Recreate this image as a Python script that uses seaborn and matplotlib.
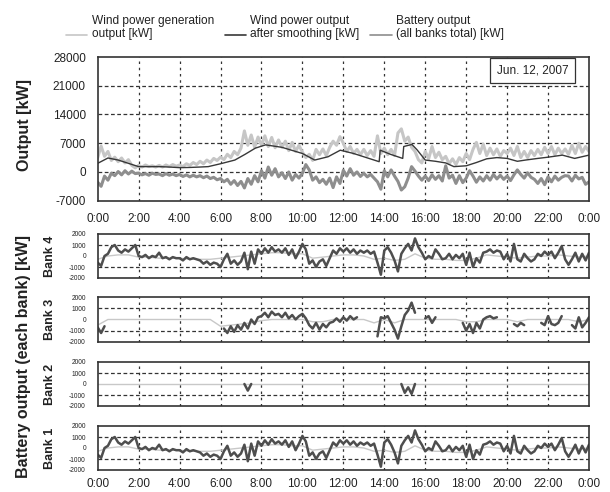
import numpy as np
import pandas as pd
import matplotlib.pyplot as plt
from matplotlib.lines import Line2D
from matplotlib.legend_handler import HandlerLine2D
import seaborn as sns

nan = np.nan

# 10-minute samples over the day (hours 0..24)
hours = np.arange(145) / 6

wind_raw = [
    3500, 6300, 3800, 5000, 2800, 3600,
    2500, 3400, 2200, 3000, 1600, 1000,
    1600, 1200, 1700, 1300, 1500, 1200,
    1600, 1200, 1700, 1300, 1800, 1400,
    1700, 1300, 2000, 1600, 2300, 1800,
    2600, 2000, 2900, 2300, 3300, 2800,
    3600, 3000, 4300, 3500, 5000, 4200,
    5800, 10000, 6500, 9000, 6000, 8500,
    6500, 8800, 6200, 8400, 5900, 7800,
    6000, 7500, 5200, 7200, 5000, 6500,
    4800, 3500, 4300, 2800, 5500, 4200,
    5600, 4000, 6000, 7500, 6500, 8600,
    7000, 5000, 6200, 4500, 5500, 4200,
    5500, 4000, 5200, 3800, 8800, 4500,
    5800, 4200, 5500, 4000, 9500, 10500,
    7500, 8500, 6000, 5000, 3000, 2200,
    5000, 3200, 6200, 3500, 4800, 3000,
    3800, 2000, 3200, 1800, 3500, 2500,
    4500, 3000, 5500, 7200, 4500, 6800,
    4000, 5800, 4200, 5600, 3800, 5200,
    4500, 5800, 4000, 6200, 3500, 5000,
    3500, 5200, 4000, 5500, 4200, 6000,
    4500, 6200, 4200, 5800, 4500, 5600,
    4300, 6500, 4500, 7000, 4800, 6200,
    5000,
]

battery_total = [
    -2500, -3500, -1000, -2000, -300, -900,
    100, -700, 300, -500, 200, -400,
    -300, -700, -400, -800, -300, -600,
    -500, -900, -400, -800, -500, -900,
    -600, -1100, -700, -1200, -800, -1200,
    -900, -1400, -1000, -1600, -1300, -1900,
    -1600, -2400, -1800, -3000, -2100, -3300,
    -2300, -3900, -1600, -3000, -900, -2400,
    300, -1500, 1200, -800, 800, -1200,
    -200, -1600, 0, -2000, -600, -1500,
    -300, 1800, 500, -2000, -1200, -2600,
    -1800, -3000, -1500, -3800, -1200, -2800,
    400, -1000, 800, -800, 0, -1100,
    -300, -1200, -600, -1500, -2400, -4200,
    300, -1200, 500, -1000, -2300, -4400,
    -3600, -1500, 1300, 200, -1000, -2000,
    -1000, -2100, -700, -1800, -900, -2200,
    1500, -1500, -800, -2800, -900, -2600,
    -1500, 300, -1000, -2500, -1200, -2200,
    -900, -2000, -600, -1700, -800, -1800,
    -1000, -2100, -700, 500, -600, -1500,
    -200, -1300, -1800, -2800, -1600, -3100,
    -1200, -2400, -1000, -2000, -1300, -900,
    -1000, -2200, -800, -1700, -1300, -3000,
    -2400,
]

smooth_t = [0, 0.5, 1, 1.5, 2, 2.5, 3, 3.5, 4, 4.5, 5, 5.4, 6, 6.7, 7.2, 7.7,
            8.2, 9, 10, 10.6, 11.25, 11.85, 12.5, 13, 13.75, 13.8, 14.3, 14.9,
            14.95, 15.35, 15.6, 16, 16.5, 17, 17.4, 18, 18.5, 19, 19.5, 20,
            20.5, 20.9, 21.5, 22, 22.7, 23.3, 24]
smooth_kw = [2100, 3400, 2900, 2100, 1300, 1300, 1300, 1200, 1050, 1100, 1200,
             1300, 2000, 2900, 4300, 5800, 6600, 6000, 4500, 2900, 3700, 5300,
             4500, 3700, 2500, 5300, 4300, 3300, 6200, 6700, 5400, 2900, 2600,
             2200, 1300, 1500, 2300, 3200, 3500, 3300, 2600, 2900, 3300, 3600,
             4100, 3300, 4100]

bank1 = [
    -600, -900, 0, 200, 800, 1000,
    500, 300, 600, 400, 700, 1000,
    0, -100, 100, -200, 0, -100,
    300, -200, -100, -300, -100, -200,
    -200, -400, -100, -300, -200, -300,
    -400, -700, -500, -800, -600, -700,
    -1000, -300, 200, -700, -400, -800,
    -500, 300, -1200, 400, -700, 600,
    200, 700, 300, 800, 400, 600,
    300, 700, 100, 600, -200, 400,
    1100, 600, -700, -400, -1000, -500,
    -300, -900, -200, 500, 200, 700,
    400, 700, 300, 600, 200, 500,
    300, 500, 200, 400, -600, -1700,
    500, 800, 300, -400, -1400, 200,
    700, 1100, 500, 1600, 800, 300,
    -300, 0, -200, 600, 200, -300,
    -200, 200, -300, 100, -200, 200,
    -800, 300, -1000, -200, -600, 300,
    400, 600, 300, 500, 400, -300,
    200, -500, 1100, -300, -500, 200,
    -200, -500, -300, 200, 0, 400,
    100, 400, -200, 300, 900, -300,
    -800, -300, 300, -500, 200, -400,
    300,
]
bank4 = list(bank1)

bank3 = [
    -700, -1200, -600, nan, nan, nan,
    nan, nan, nan, nan, nan, nan,
    nan, nan, nan, nan, nan, nan,
    nan, nan, nan, nan, nan, nan,
    nan, nan, nan, nan, nan, nan,
    nan, nan, nan, nan, nan, nan,
    nan, -800, -1200, -600, -1100, -500,
    -900, -300, -800, 0, -400, 200,
    300, 600, 200, 700, 400, 500,
    200, 600, 100, 400, 0, 300,
    500, 100, -500, -800, -300, -900,
    -400, -700, -300, -200, 100, -200,
    200, -100, 300, 0, 200, nan,
    nan, nan, nan, nan, -1500, 200,
    100, 300, -300, -900, -1700, -600,
    400, 800, 1500, 600, nan, nan,
    100, 300, -300, 200, nan, nan,
    nan, nan, nan, nan, nan, -300,
    -1000, -400, -1200, -300, -800, 0,
    200, 300, 100, 200, nan, nan,
    nan, nan, -400, -600, -300, -500,
    nan, nan, nan, nan, -300, -500,
    300, -400, -500, -300, 300, nan,
    nan, -500, -800, 200, -700, -300,
    200,
]

bank2 = [
    nan, nan, nan, nan, nan, nan,
    nan, nan, nan, nan, nan, nan,
    nan, nan, nan, nan, nan, nan,
    nan, nan, nan, nan, nan, nan,
    nan, nan, nan, nan, nan, nan,
    nan, nan, nan, nan, nan, nan,
    nan, nan, nan, nan, nan, nan,
    nan, 0, -600, 0, nan, nan,
    nan, nan, nan, nan, nan, nan,
    nan, nan, nan, nan, nan, nan,
    nan, nan, nan, nan, nan, nan,
    nan, nan, nan, nan, nan, nan,
    nan, nan, nan, nan, nan, nan,
    nan, nan, nan, nan, nan, nan,
    nan, nan, nan, nan, nan, 0,
    -800, -300, -900, 0, nan, nan,
    nan, nan, nan, nan, nan, nan,
    nan, nan, nan, nan, nan, nan,
    nan, nan, nan, nan, nan, nan,
    nan, nan, nan, nan, nan, nan,
    nan, nan, nan, nan, nan, nan,
    nan, nan, nan, nan, nan, nan,
    nan, nan, nan, nan, nan, nan,
    nan, nan, nan, nan, nan, nan,
    nan,
]

# light reference line in each bank, half-hourly
ref_t = np.arange(49) / 2
bank1_ref = [-300, 0, 100, 100, -100, -100, -200, -200, -200, -300, -300, -300,
             -200, -100, 0, 100, 200, 300, 300, 200, 200, -200, -100, 0,
             100, 100, 0, -300, -200, -400, -300, 200, -200, -300, -300, -400,
             -400, -200, 100, 0, -100, -200, -100, 0, 0, 100, 0, -100, 0]
bank4_ref = list(bank1_ref)
bank3_ref = [-500, 0, 0, 0, 0, 0, 0, 0, 0, 0, 0, 0,
             -600, -500, -400, -300, -100, 0, 0, 0, 0, -200, -200, 0,
             0, 0, 0, -300, 0, -300, 0, 0, 0, 0, 0, 0,
             -200, -200, 0, 0, 0, -200, 0, 0, 0, 0, 0, -200, 0]
bank2_ref = [0] * 49

hour_ticks = list(range(0, 25, 2))
hour_labels = ["0:00", "2:00", "4:00", "6:00", "8:00", "10:00", "12:00",
               "14:00", "16:00", "18:00", "20:00", "22:00", "0:00"]
top_ticks = [-7000, 0, 7000, 14000, 21000, 28000]
bank_ticks = [-2000, -1000, 0, 1000, 2000]

c_raw = "#c6c6c6"
c_smooth = "#383838"
c_batt = "#8e8e8e"
c_bank = "#4e4e4e"
c_ref = "#c8c8c8"

sns.set_theme(style="white")
plt.rcParams["font.family"] = ["Liberation Sans", "DejaVu Sans"]


def draw(ax, x, y, color, lw):
    df = pd.DataFrame({"t": x, "kw": y})
    df["seg"] = df["kw"].isna().cumsum()
    df = df.dropna()
    sns.lineplot(data=df, x="t", y="kw", units="seg", estimator=None,
                 color=color, lw=lw, ax=ax, legend=False)


def frame(ax, yticks, ysize, xpad):
    ax.set_xlim(0, 24)
    ax.set_ylim(yticks[0], yticks[-1])
    ax.set_xticks(hour_ticks)
    ax.set_xticklabels(hour_labels if xpad else [])
    ax.set_yticks(yticks)
    ax.set_yticklabels([str(v) for v in yticks])
    ax.tick_params(axis="x", length=0, pad=xpad or 9, labelsize=8.5, colors="#222222")
    ax.tick_params(axis="y", length=0, pad=8.5, labelsize=ysize, colors="#222222")
    ax.set_xlabel("")
    ax.set_ylabel("")
    for sp in ax.spines.values():
        sp.set_linewidth(1.2)
        sp.set_color("#333333")
    for h in hour_ticks[1:-1]:
        ax.axvline(h, color="#333333", lw=0.9, ls=(0, (2, 3)), zorder=0.5)


fig = plt.figure(figsize=(6.1, 4.92), dpi=100)
W, H = 610, 492


def box(top, bottom):
    return [97.7 / W, 1 - bottom / H, (589 - 97.7) / W, (bottom - top) / H]


ax = fig.add_axes(box(57, 200.7))
draw(ax, hours, wind_raw, c_raw, 2.2)
draw(ax, hours, battery_total, c_batt, 2.2)
draw(ax, smooth_t, smooth_kw, c_smooth, 1.0)
frame(ax, top_ticks, 8.5, 9)
for v in top_ticks[1:-1]:
    ax.axhline(v, color="#333333", lw=0.9, ls=(0, (3, 2)), zorder=0.5)
ax.text(0.885, 0.905, "Jun. 12, 2007", transform=ax.transAxes, ha="center",
        va="center", fontsize=8.5, color="#222222",
        bbox=dict(boxstyle="square,pad=0.55", fc="white", ec="#333333", lw=0.9))

banks = [("Bank 4", bank4, bank4_ref, 234, 278),
         ("Bank 3", bank3, bank3_ref, 297, 342),
         ("Bank 2", bank2, bank2_ref, 362, 406),
         ("Bank 1", bank1, bank1_ref, 426, 470)]
for name, vals, ref, top, bottom in banks:
    bx = fig.add_axes(box(top, bottom))
    draw(bx, ref_t, ref, c_ref, 1.0)
    draw(bx, hours, vals, c_bank, 1.8)
    frame(bx, bank_ticks, 4.8, 6 if name == "Bank 1" else 0)
    for v in (-1000, 1000):
        bx.axhline(v, color="#333333", lw=0.9, ls=(0, (3, 2)), zorder=0.5)
    fig.text(50 / W, 1 - (top + bottom) / 2 / H, name, rotation=90, ha="center",
             va="center", fontsize=9, fontweight="bold", color="#222222")

fig.text(24.5 / W, 1 - 125 / H, "Output [kW]", rotation=90, ha="center",
         va="center", fontsize=11.5, fontweight="bold", color="#222222")
fig.text(24 / W, 1 - 357 / H, "Battery output (each bank) [kW]", rotation=90,
         ha="center", va="center", fontsize=11.5, fontweight="bold", color="#222222")


class LowLine(HandlerLine2D):
    # put the legend line next to the second text line
    def create_artists(self, legend, orig_handle, xdescent, ydescent, width,
                       height, fontsize, trans):
        arts = super().create_artists(legend, orig_handle, xdescent, ydescent,
                                      width, height, fontsize, trans)
        for a in arts:
            a.set_ydata(np.asarray(a.get_ydata()) - 0.6 * fontsize)
        return arts


handles = [Line2D([], [], color=c_raw, lw=1.2),
           Line2D([], [], color=c_smooth, lw=1.2),
           Line2D([], [], color=c_batt, lw=1.2)]
labels = ["Wind power generation\noutput [kW]",
          "Wind power output\nafter smoothing [kW]",
          "Battery output\n(all banks total) [kW]"]
fig.legend(handles, labels, loc="center", bbox_to_anchor=(285 / W, 1 - 27.5 / H),
           ncol=3, frameon=False, fontsize=8.6, handlelength=1.8,
           handletextpad=0.35, columnspacing=0.9, borderpad=0,
           handler_map={Line2D: LowLine()}, labelcolor="#222222")

fig.savefig("out.png", dpi=100)
